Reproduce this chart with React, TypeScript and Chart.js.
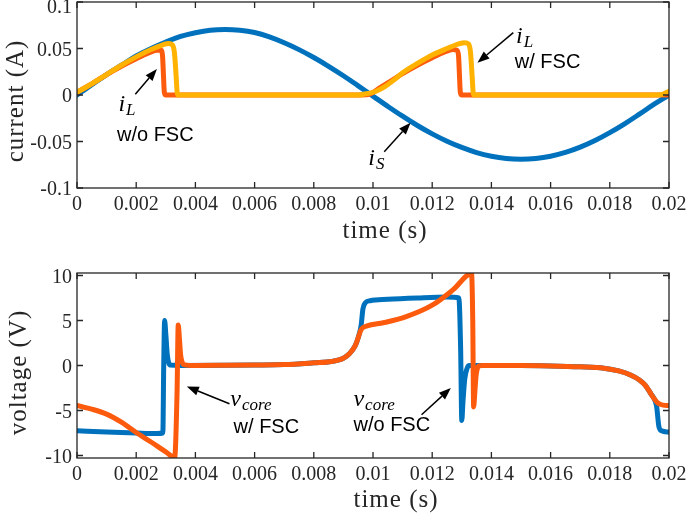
import { useEffect, useRef } from "react";
import { Chart, registerables } from "chart.js";

Chart.register(...registerables);

const BLUE = "#0072BD";
const RED = "#FC5A0C";
const YELLOW = "#FFB200";
const AXIS = "#262626";

// shared time axis ticks
const timeTicks = [0, 0.002, 0.004, 0.006, 0.008, 0.01, 0.012, 0.014, 0.016, 0.018, 0.02];
const timeTickLabels = ["0", "0.002", "0.004", "0.006", "0.008", "0.01", "0.012", "0.014", "0.016", "0.018", "0.02"];

const currentTicks = [-0.1, -0.05, 0, 0.05, 0.1];
const currentTickLabels = ["-0.1", "-0.05", "0", "0.05", "0.1"];
const voltageTicks = [-10, -5, 0, 5, 10];
const voltageTickLabels = ["-10", "-5", "0", "5", "10"];

// top panel: i_S
const tIS = [
  0, 0.0005, 0.001, 0.0015, 0.002, 0.0025, 0.003, 0.0035, 0.004, 0.0045, 0.005, 0.0055, 0.006, 0.0065,
  0.007, 0.0075, 0.008, 0.0085, 0.009, 0.0095, 0.01, 0.0105, 0.011, 0.0115, 0.012, 0.0125, 0.013, 0.0135,
  0.014, 0.0145, 0.015, 0.0155, 0.016, 0.0165, 0.017, 0.0175, 0.018, 0.0185, 0.019, 0.0195, 0.02,
];
const iS = [
  0, 0.011, 0.022, 0.032, 0.042, 0.05, 0.057, 0.063, 0.067, 0.0697, 0.0705, 0.0697, 0.0672, 0.0625,
  0.0562, 0.0488, 0.0403, 0.0309, 0.0207, 0.0098, -0.0012, -0.0122, -0.0228, -0.0328, -0.0418, -0.0497, -0.0564, -0.0619,
  -0.0658, -0.0682, -0.069, -0.0682, -0.0658, -0.0618, -0.0561, -0.049, -0.0405, -0.031, -0.0206, -0.0098, 0,
];

// top panel: i_L without FSC
const tILwo = [
  0, 0.0005, 0.001, 0.0015, 0.002, 0.0024, 0.0027, 0.00284, 0.00289, 0.00292, 0.00295, 0.003, 0.006,
  0.0096, 0.0099, 0.0102, 0.0105, 0.011, 0.0115, 0.012, 0.0124, 0.0127, 0.01284, 0.01289, 0.01292,
  0.01295, 0.013, 0.02,
];
const iLwo = [
  0.003, 0.012, 0.022, 0.031, 0.039, 0.045, 0.048, 0.048, 0.042, 0.022, 0.003, 0, 0,
  0, 0.001, 0.007, 0.013, 0.023, 0.032, 0.04, 0.046, 0.049, 0.048, 0.042, 0.022,
  0.003, 0, 0,
];

// top panel: i_L with FSC
const tILw = [
  0, 0.0005, 0.001, 0.0015, 0.002, 0.0025, 0.0029, 0.0031, 0.00322, 0.00329, 0.00334, 0.00338, 0.0034,
  0.006, 0.0095, 0.0097, 0.0099, 0.0101, 0.0104, 0.0107, 0.011, 0.0115, 0.012, 0.0125, 0.0129, 0.0131,
  0.01322, 0.01329, 0.01334, 0.01338, 0.0134, 0.0195, 0.0198, 0.02,
];
const iLw = [
  0.003, 0.012, 0.022, 0.032, 0.041, 0.049, 0.054, 0.0555, 0.054, 0.046, 0.025, 0.004, 0,
  0, 0, 0.001, 0.002, 0.004, 0.009, 0.016, 0.024, 0.034, 0.043, 0.05, 0.055, 0.0563,
  0.055, 0.047, 0.025, 0.004, 0, 0, 0.001, 0.004,
];

// bottom panel: v_core without FSC
const tVwo = [
  0, 0.001, 0.002, 0.0027, 0.0029, 0.00293, 0.00296, 0.003, 0.00305, 0.0031, 0.00315, 0.0035, 0.005,
  0.006, 0.007, 0.008, 0.0086, 0.009, 0.0092, 0.0094, 0.0095, 0.0096, 0.00966, 0.00975, 0.0099, 0.0105,
  0.0115, 0.0125, 0.0129, 0.01296, 0.013, 0.01304, 0.0131, 0.01318, 0.01325, 0.0135, 0.015, 0.016,
  0.017, 0.0178, 0.0183, 0.0187, 0.019, 0.0192, 0.0194, 0.0195, 0.01958, 0.01966, 0.01975, 0.02,
];
const vWo = [
  -7.25, -7.4, -7.5, -7.55, -7.5, 0, 5.0, 3.5, 1.2, 0.3, 0.05, 0, 0.02,
  0.05, 0.1, 0.3, 0.45, 0.8, 1.3, 2.2, 3.1, 4.5, 6.3, 7.0, 7.2, 7.35,
  7.5, 7.6, 7.5, 2, -6.1, -4, -1.5, -0.3, 0, 0, 0, -0.05,
  -0.15, -0.3, -0.6, -1.05, -1.6, -2.2, -3.2, -3.7, -4.5, -6.8, -7.25, -7.4,
];

// bottom panel: v_core with FSC
const tVw = [
  0, 0.0005, 0.001, 0.0015, 0.002, 0.0025, 0.003, 0.0033, 0.00338, 0.00342, 0.00346, 0.0035, 0.00355,
  0.0036, 0.004, 0.005, 0.006, 0.007, 0.008, 0.0086, 0.009, 0.0092, 0.0094, 0.0095, 0.0096, 0.0098,
  0.01035, 0.0111, 0.012, 0.0127, 0.01333, 0.01337, 0.0134, 0.01344, 0.01348, 0.01352, 0.01358, 0.0137,
  0.015, 0.016, 0.017, 0.0178, 0.0183, 0.0187, 0.019, 0.0192, 0.0194, 0.0195, 0.0196, 0.0197, 0.0198, 0.02,
];
const vW = [
  -4.45, -4.85, -5.4, -6.3, -7.45, -8.5, -9.6, -10.2, -3, 4.5, 3, 1.2, 0.4,
  0.1, 0, 0.02, 0.05, 0.1, 0.3, 0.45, 0.8, 1.3, 2.2, 3.1, 4.0, 4.4,
  4.75, 5.4, 6.7, 8.4, 10.2, 5, -4.6, -3, -1.2, -0.4, -0.05, 0,
  0, -0.05, -0.15, -0.3, -0.6, -1.05, -1.6, -2.2, -3.2, -3.7, -4.1, -4.3, -4.4, -4.45,
];

const pts = (t: number[], v: number[]) => t.map((x, i) => ({ x, y: v[i] }));

type Note = { x: number; y: number; main: string; sub?: string; sans?: boolean };
type Arrow = { x1: number; y1: number; x2: number; y2: number };

type FrameCfg = {
  yTicks: number[];
  yTickLabels: string[];
  yTitle: string;
  yTitleX: number;
  yTitleDy: number;
  xTitleDx: number;
  xTitleDy: number;
  notes: Note[];
  arrows: Arrow[];
};

const drawArrow = (ctx: CanvasRenderingContext2D, x1: number, y1: number, x2: number, y2: number) => {
  const ang = Math.atan2(y2 - y1, x2 - x1);
  const hl = 12;
  const hw = 4.5;
  const bx = x2 - hl * Math.cos(ang);
  const by = y2 - hl * Math.sin(ang);
  ctx.beginPath();
  ctx.moveTo(x1, y1);
  ctx.lineTo(bx, by);
  ctx.stroke();
  ctx.beginPath();
  ctx.moveTo(x2, y2);
  ctx.lineTo(bx + hw * Math.sin(ang), by - hw * Math.cos(ang));
  ctx.lineTo(bx - hw * Math.sin(ang), by + hw * Math.cos(ang));
  ctx.closePath();
  ctx.fill();
};

const makeFrame = (cfg: FrameCfg) => ({
  id: "frame",
  afterDatasetsDraw(chart: Chart) {
    const { ctx, chartArea: a } = chart;
    const xs = chart.scales.x;
    const ys = chart.scales.y;
    ctx.save();

    // box with inward ticks on all sides
    ctx.strokeStyle = AXIS;
    ctx.lineWidth = 1.3;
    ctx.strokeRect(a.left, a.top, a.right - a.left, a.bottom - a.top);
    ctx.beginPath();
    timeTicks.forEach((v) => {
      const px = xs.getPixelForValue(v);
      ctx.moveTo(px, a.bottom);
      ctx.lineTo(px, a.bottom - 6);
      ctx.moveTo(px, a.top);
      ctx.lineTo(px, a.top + 6);
    });
    cfg.yTicks.forEach((v) => {
      const py = ys.getPixelForValue(v);
      ctx.moveTo(a.left, py);
      ctx.lineTo(a.left + 6, py);
      ctx.moveTo(a.right, py);
      ctx.lineTo(a.right - 6, py);
    });
    ctx.stroke();

    // tick labels
    ctx.fillStyle = AXIS;
    ctx.font = "20px 'Liberation Serif'";
    ctx.textAlign = "center";
    ctx.textBaseline = "middle";
    timeTicks.forEach((v, i) => {
      ctx.fillText(timeTickLabels[i], xs.getPixelForValue(v), a.bottom + 17);
    });
    ctx.textAlign = "right";
    cfg.yTicks.forEach((v, i) => {
      const py = Math.max(8, ys.getPixelForValue(v) + 2);
      ctx.fillText(cfg.yTickLabels[i], a.left - 5, py);
    });

    // axis titles
    ctx.font = "25px 'Liberation Serif'";
    (ctx as any).letterSpacing = "1px";
    ctx.textAlign = "center";
    ctx.fillText("time (s)", (a.left + a.right) / 2 + cfg.xTitleDx, a.bottom + cfg.xTitleDy);
    ctx.save();
    ctx.translate(cfg.yTitleX, (a.top + a.bottom) / 2 + cfg.yTitleDy);
    ctx.rotate(-Math.PI / 2);
    ctx.fillText(cfg.yTitle, 0, 0);
    ctx.restore();
    (ctx as any).letterSpacing = "0px";

    // annotations
    ctx.fillStyle = "#000";
    ctx.strokeStyle = "#000";
    ctx.lineWidth = 1.5;
    cfg.arrows.forEach((r) => {
      drawArrow(
        ctx,
        xs.getPixelForValue(r.x1),
        ys.getPixelForValue(r.y1),
        xs.getPixelForValue(r.x2),
        ys.getPixelForValue(r.y2)
      );
    });
    ctx.textAlign = "left";
    cfg.notes.forEach((n) => {
      const px = xs.getPixelForValue(n.x);
      const py = ys.getPixelForValue(n.y);
      if (n.sans) {
        ctx.font = "20px 'Liberation Sans'";
        ctx.textBaseline = "middle";
        ctx.fillText(n.main, px, py);
      } else {
        ctx.textBaseline = "alphabetic";
        ctx.font = "italic 24px 'Liberation Serif'";
        ctx.fillText(n.main, px, py);
        const w = ctx.measureText(n.main).width;
        if (n.sub) {
          ctx.font = "italic 17px 'Liberation Serif'";
          ctx.fillText(n.sub, px + w + 1, py + 4);
        }
      }
    });

    ctx.restore();
  },
});

type Series = { data: { x: number; y: number }[]; color: string; smooth?: boolean };

type PanelProps = {
  top: number;
  height: number;
  padding: { left: number; right: number; top: number; bottom: number };
  yMin: number;
  yMax: number;
  datasets: Series[];
  frame: FrameCfg;
};

const Panel = ({ top, height, padding, yMin, yMax, datasets, frame }: PanelProps) => {
  const ref = useRef<HTMLCanvasElement | null>(null);

  useEffect(() => {
    if (!ref.current) return;
    const chart = new Chart(ref.current, {
      type: "line",
      data: {
        datasets: datasets.map((d) => ({
          data: d.data,
          borderColor: d.color,
          backgroundColor: d.color,
          borderWidth: 5,
          pointRadius: 0,
          fill: false,
          // the sine is smoothed with tension, the switching waveforms with monotone splines
          tension: d.smooth ? 0.4 : 0,
          cubicInterpolationMode: d.smooth ? ("default" as const) : ("monotone" as const),
          borderCapStyle: "round" as const,
          borderJoinStyle: "round" as const,
        })),
      },
      options: {
        responsive: false,
        animation: false,
        events: [],
        layout: { padding },
        plugins: { legend: { display: false }, tooltip: { enabled: false } },
        scales: {
          x: { type: "linear", min: 0, max: 0.02, display: false },
          y: { type: "linear", min: yMin, max: yMax, display: false },
        },
      },
      plugins: [makeFrame(frame)],
    });
    return () => chart.destroy();
  }, []);

  return (
    <div style={{ position: "absolute", left: 0, top, width: 699, height }}>
      <canvas ref={ref} width={699} height={height}></canvas>
    </div>
  );
};

const App = () => {
  return (
    <div style={{ position: "absolute", left: 0, top: 0, width: 699, height: 516, background: "#fff" }}>
      <Panel
        top={0}
        height={250}
        padding={{ left: 77, right: 30, top: 2, bottom: 62 }}
        yMin={-0.1}
        yMax={0.1}
        datasets={[
          { data: pts(tILw, iLw), color: YELLOW },
          { data: pts(tILwo, iLwo), color: RED },
          { data: pts(tIS, iS), color: BLUE, smooth: true },
        ]}
        frame={{
          yTicks: currentTicks,
          yTickLabels: currentTickLabels,
          yTitle: "current (A)",
          yTitleX: 16,
          yTitleDy: 6,
          xTitleDx: 12,
          xTitleDy: 43,
          notes: [
            { x: 0.0014, y: -0.0177, main: "i", sub: "L" },
            { x: 0.00135, y: -0.043, main: "w/o FSC", sans: true },
            { x: 0.01483, y: 0.0556, main: "i", sub: "L" },
            { x: 0.01479, y: 0.035, main: "w/ FSC", sans: true },
            { x: 0.00984, y: -0.0753, main: "i", sub: "S" },
          ],
          arrows: [
            { x1: 0.00197, y1: 0.0008, x2: 0.0027, y2: 0.028 },
            { x1: 0.01474, y1: 0.067, x2: 0.01353, y2: 0.0347 },
            { x1: 0.01038, y1: -0.061, x2: 0.01127, y2: -0.0298 },
          ],
        }}
      />
      <Panel
        top={250}
        height={266}
        padding={{ left: 77, right: 30, top: 23, bottom: 58 }}
        yMin={-10.28}
        yMax={10.28}
        datasets={[
          { data: pts(tVw, vW), color: RED },
          { data: pts(tVwo, vWo), color: BLUE },
        ]}
        frame={{
          yTicks: voltageTicks,
          yTickLabels: voltageTickLabels,
          yTitle: "voltage (V)",
          yTitleX: 19,
          yTitleDy: 7,
          xTitleDx: 23,
          xTitleDy: 42,
          notes: [
            { x: 0.00518, y: -4.55, main: "v", sub: "core" },
            { x: 0.00529, y: -6.94, main: "w/ FSC", sans: true },
            { x: 0.00934, y: -4.55, main: "v", sub: "core" },
            { x: 0.00934, y: -6.66, main: "w/o FSC", sans: true },
          ],
          arrows: [
            { x1: 0.00515, y1: -4.25, x2: 0.00371, y2: -2.33 },
            { x1: 0.01164, y1: -5.47, x2: 0.01263, y2: -2.51 },
          ],
        }}
      />
    </div>
  );
};

export default App;
